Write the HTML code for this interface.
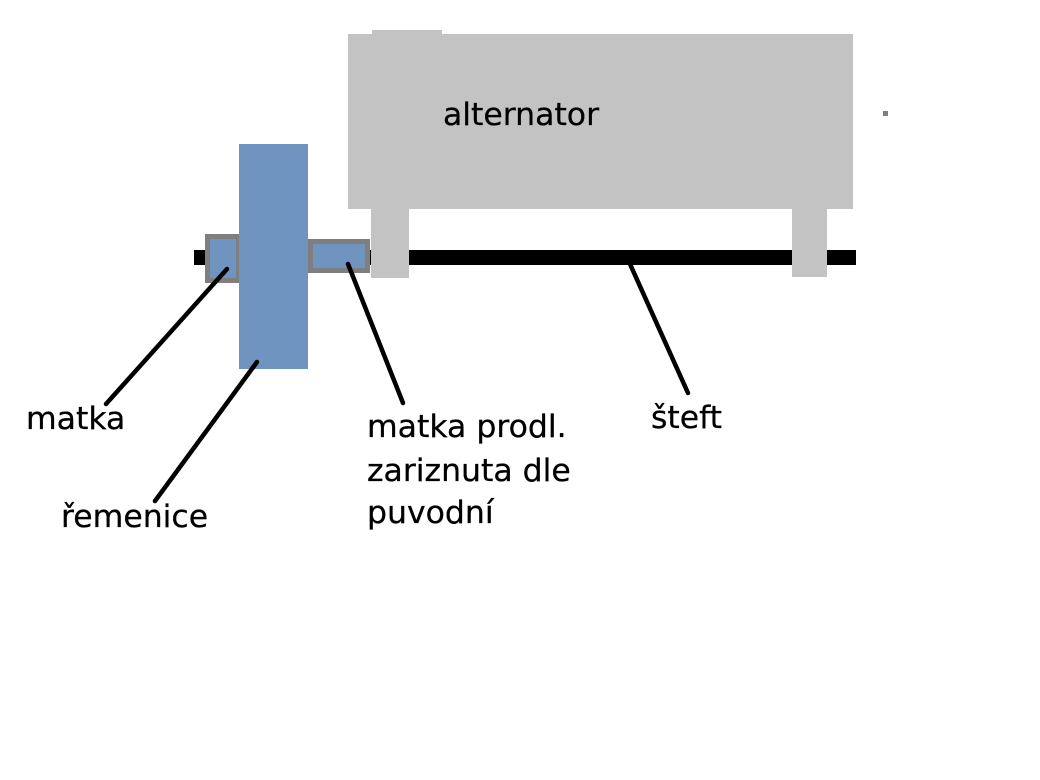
<!DOCTYPE html>
<html>
<head>
<meta charset="utf-8">
<style>
  html,body{margin:0;padding:0;background:#fff;}
  svg{display:block;}
  text{font-family:"DejaVu Sans","Liberation Sans",sans-serif;font-size:31.5px;fill:#000;stroke:#000;stroke-width:0.25px;}
</style>
</head>
<body>
<svg width="1040" height="780" viewBox="0 0 1040 780" xmlns="http://www.w3.org/2000/svg">
  <rect x="0" y="0" width="1040" height="780" fill="#ffffff"/>
  <!-- alternator body -->
  <rect x="372" y="30" width="70" height="6" fill="#c3c3c3"/>
  <rect x="348" y="34" width="505" height="175" fill="#c3c3c3"/>
  <!-- shaft -->
  <rect x="194" y="250" width="662" height="15" fill="#000"/>
  <!-- legs -->
  <rect x="371" y="208" width="38" height="70" fill="#c3c3c3"/>
  <rect x="792" y="208" width="35" height="69" fill="#c3c3c3"/>
  <!-- left nut -->
  <rect x="207.5" y="236.5" width="31" height="44" fill="#7094c0" stroke="#7f7f7f" stroke-width="5"/>
  <!-- right nut -->
  <rect x="310.5" y="241.5" width="57" height="29" fill="#7094c0" stroke="#7f7f7f" stroke-width="5"/>
  <!-- pulley -->
  <rect x="239" y="144" width="69" height="225" fill="#7094c0"/>
  <!-- dot -->
  <rect x="883" y="111" width="5" height="5" fill="#808080"/>
  <!-- leader lines -->
  <g stroke="#000" stroke-width="4.5" stroke-linecap="round">
    <line x1="227" y1="269" x2="106" y2="404"/>
    <line x1="257" y1="362" x2="155" y2="501"/>
    <line x1="348" y1="264" x2="403" y2="403"/>
    <line x1="630" y1="264" x2="688" y2="393"/>
  </g>
  <!-- labels -->
  <text x="443" y="125">alternator</text>
  <text x="26" y="429">matka</text>
  <text x="61" y="527">řemenice</text>
  <text x="367" y="437">matka prodl.</text>
  <text x="367" y="481">zariznuta dle</text>
  <text x="367" y="523">puvodní</text>
  <text x="651" y="428">šteft</text>
</svg>
</body>
</html>
